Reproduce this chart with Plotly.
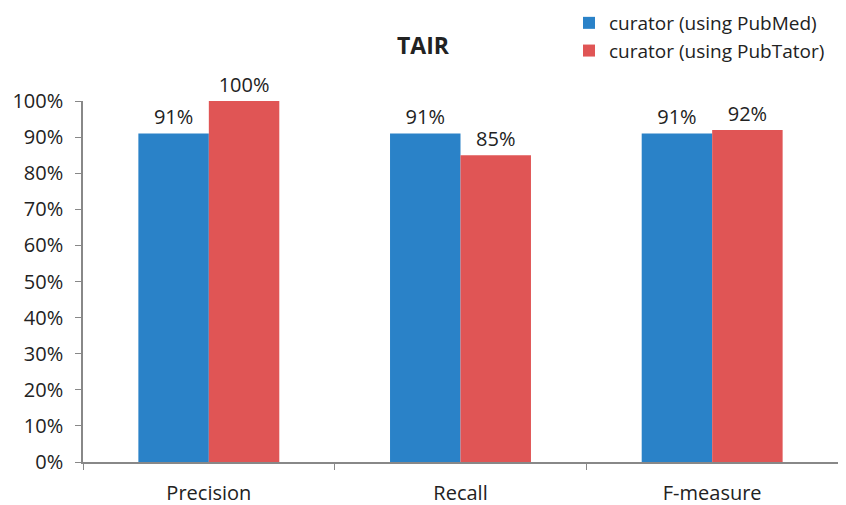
import plotly.graph_objects as go

categories = ["Precision", "Recall", "F-measure"]
pubmed = [0.91, 0.91, 0.91]
pubtator = [1.00, 0.85, 0.92]
series_names = ["curator (using PubMed)", "curator (using PubTator)"]
tick_vals = [i / 10 for i in range(11)]
tick_text = [f"{i*10}%" for i in range(11)]

font_family = "Open Sans, Liberation Sans, sans-serif"
# the page body has an 8px margin, so the figure is drawn 8px in from the top-left
OFF = 8
W, H = 846 - OFF, 505 - OFF
T, B = 101 - OFF, 43
PLOT_H = H - T - B

fig = go.Figure()
fig.add_bar(x=categories, y=pubmed, name=series_names[0], marker_color="#2A82C8",
            marker_line_width=0,
            text=[f"{round(v*100)}%" for v in pubmed], textposition="outside",
            textfont=dict(size=20, color="#222"), cliponaxis=False)
fig.add_bar(x=categories, y=pubtator, name=series_names[1], marker_color="#E05555",
            marker_line_width=0,
            text=[f"{round(v*100)}%" for v in pubtator], textposition="outside",
            textfont=dict(size=20, color="#222"), cliponaxis=False)

fig.update_layout(
    width=W, height=H,
    margin=dict(l=83 - OFF, r=8, t=T, b=B, autoexpand=False),
    paper_bgcolor="white", plot_bgcolor="white",
    font=dict(family=font_family, size=20, color="#222"),
    barmode="group", bargap=0.44, bargroupgap=0,
    title=dict(text="<b>TAIR</b>", x=(423 - OFF) / W, xref="container", xanchor="center",
               y=1 - (46 - OFF) / H, yref="container", yanchor="middle",
               font=dict(size=23, color="#222")),
    legend=dict(x=(569 - OFF) / W, xref="container", xanchor="left",
                y=1 + (T + 4) / PLOT_H, yref="paper", yanchor="top",
                font=dict(size=19), bgcolor="rgba(0,0,0,0)",
                itemwidth=30, tracegroupgap=0),
    showlegend=True,
)
fig.update_xaxes(showline=True, linecolor="#888", linewidth=1.5, tickson="boundaries",
                 ticks="outside", ticklen=6, tickcolor="#888", showgrid=False,
                 tickfont=dict(size=20), automargin=False, ticklabelstandoff=12)
fig.update_yaxes(range=[0, 1.0], tickvals=tick_vals, ticktext=tick_text,
                 showline=True, linecolor="#888", linewidth=1.5,
                 ticks="outside", ticklen=6, tickcolor="#888", showgrid=False,
                 zeroline=False, tickfont=dict(size=20), automargin=False,
                 ticklabelstandoff=8)

fig.write_html("out.html")
